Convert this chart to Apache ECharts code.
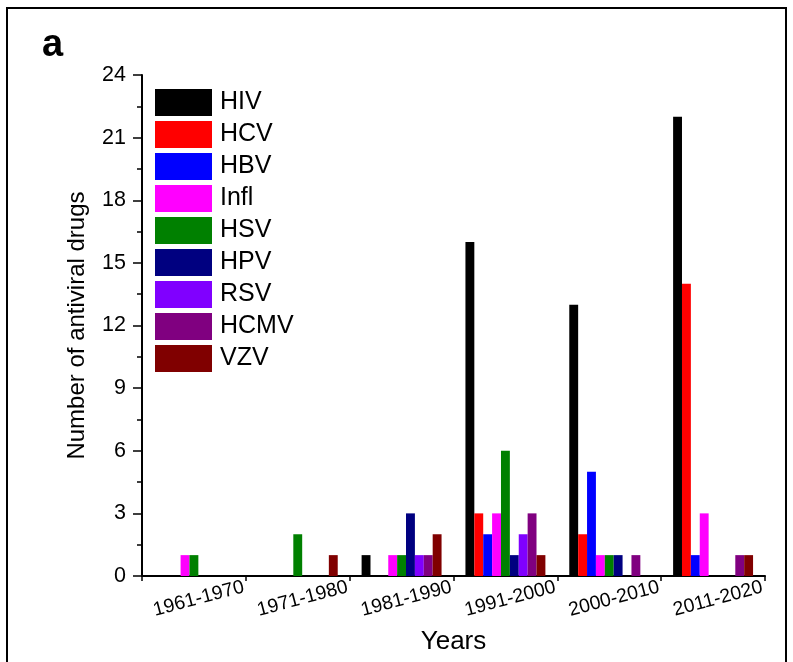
<!DOCTYPE html>
<html>
<head>
<meta charset="utf-8">
<script src="https://cdn.jsdelivr.net/npm/echarts@6/dist/echarts.min.js"></script>
<style>
html,body{margin:0;padding:0;background:#fff;}
#main{width:793px;height:662px;}
</style>
</head>
<body>
<div id="main"></div>
<script>
const categories = ['1961-1970','1971-1980','1981-1990','1991-2000','2000-2010','2011-2020'];
const seriesNames = ['HIV','HCV','HBV','Infl','HSV','HPV','RSV','HCMV','VZV'];
const seriesColors = ['#000000','#ff0000','#0000ff','#ff00ff','#008000','#000080','#8000ff','#800080','#800000'];
const HIV  = [0, 0, 1, 16, 13, 22];
const HCV  = [0, 0, 0, 3, 2, 14];
const HBV  = [0, 0, 0, 2, 5, 1];
const Infl = [1, 0, 1, 3, 1, 3];
const HSV  = [1, 2, 1, 6, 1, 0];
const HPV  = [0, 0, 3, 1, 1, 0];
const RSV  = [0, 0, 1, 2, 0, 0];
const HCMV = [0, 0, 1, 3, 1, 1];
const VZV  = [0, 1, 2, 1, 0, 1];
const seriesValues = [HIV, HCV, HBV, Infl, HSV, HPV, RSV, HCMV, VZV];
const yTicks = {min: 0, max: 24, interval: 3};

const chart = echarts.init(document.getElementById('main'), null, {renderer: 'canvas'});
const font = 'Liberation Sans, Arial, sans-serif';
chart.setOption({
  animation: false,
  backgroundColor: '#fff',
  textStyle: {fontFamily: font},
  graphic: [
    {type: 'rect', shape: {x: 7, y: 8, width: 779, height: 700}, style: {fill: 'none', stroke: '#000', lineWidth: 2}, z: 100},
    {type: 'text', left: 42, top: 27, style: {text: 'a', font: 'bold 38px ' + font, fill: '#000'}}
  ],
  legend: {
    orient: 'vertical',
    left: 155, top: 89,
    padding: 0,
    itemWidth: 57, itemHeight: 27, itemGap: 5,
    icon: 'rect',
    textStyle: {fontSize: 25, color: '#000', fontFamily: font, padding: [0,0,0,3]},
    data: seriesNames
  },
  grid: {left: 142, right: 28, top: 75, bottom: 86},
  xAxis: [
    {
      type: 'category',
      data: categories,
      name: 'Years',
      nameLocation: 'middle',
      nameGap: 53,
      nameTextStyle: {fontSize: 26, color: '#000', fontFamily: font, verticalAlign: 'top'},
      axisLine: {lineStyle: {color: '#000', width: 2}},
      axisTick: {alignWithLabel: true, length: 9, lineStyle: {color: '#000', width: 1.5}},
      axisLabel: {rotate: 15, fontSize: 19.5, color: '#000', fontFamily: font, align: 'center', verticalAlign: 'middle', margin: 24, padding: [0,0,0,10]},
      splitLine: {show: false}
    },
    {
      type: 'value',
      min: 0, max: categories.length, interval: 1,
      position: 'bottom',
      axisLine: {show: false},
      axisTick: {show: true, length: 5, lineStyle: {color: '#000', width: 1.5}},
      axisLabel: {show: false},
      splitLine: {show: false}
    }
  ],
  yAxis: {
    type: 'value',
    min: yTicks.min, max: yTicks.max, interval: yTicks.interval,
    name: 'Number of antiviral drugs',
    nameLocation: 'middle',
    nameGap: 53,
    nameTextStyle: {fontSize: 24, color: '#000', fontFamily: font},
    axisLine: {show: true, lineStyle: {color: '#000', width: 2}},
    axisTick: {show: true, length: 9, lineStyle: {color: '#000', width: 1.5}},
    minorTick: {show: true, splitNumber: 2, length: 5, lineStyle: {color: '#000', width: 1.5}},
    axisLabel: {fontSize: 21.5, color: '#000', fontFamily: font, margin: 16},
    splitLine: {show: false}
  },
  series: seriesNames.map((n, i) => ({
    name: n,
    type: 'bar',
    xAxisIndex: 0,
    data: seriesValues[i],
    barGap: '0%',
    barCategoryGap: '23%',
    itemStyle: {color: seriesColors[i]}
  }))
});
</script>
</body>
</html>
